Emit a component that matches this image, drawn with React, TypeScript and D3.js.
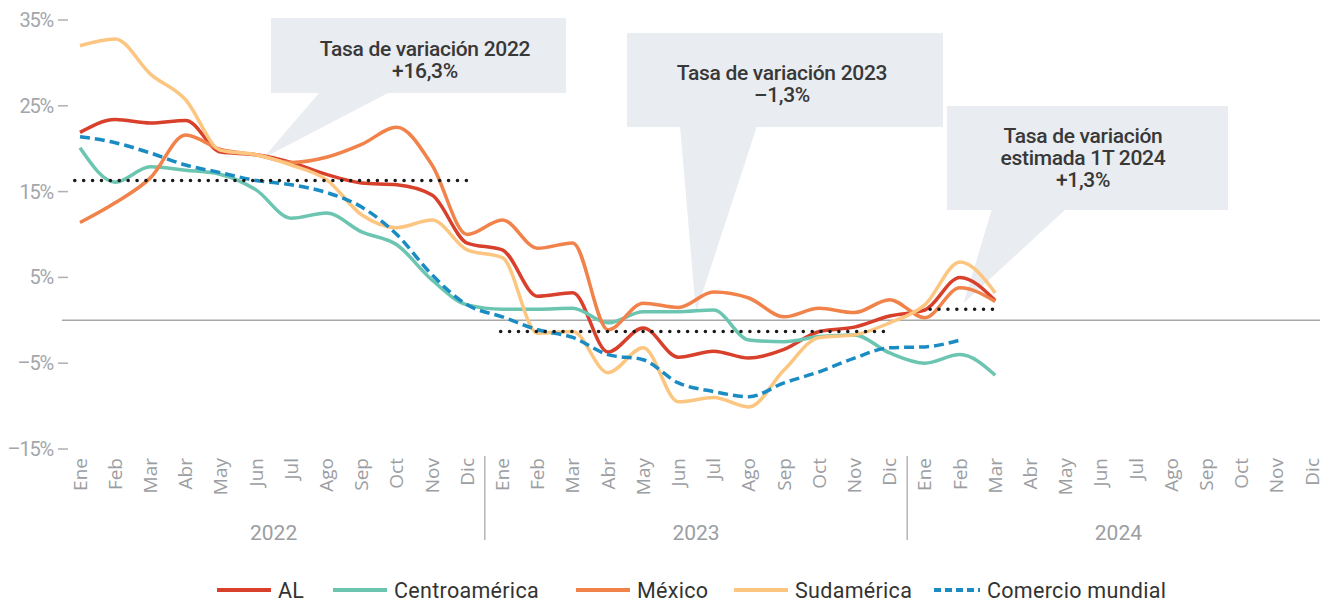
import React from "react";
import * as d3 from "d3";

const months = ["Ene", "Feb", "Mar", "Abr", "May", "Jun", "Jul", "Ago", "Sep", "Oct", "Nov", "Dic"];
const years = ["2022", "2023", "2024"];
const yTicks = [35, 25, 15, 5, -5, -15];

const al = [21.9, 23.4, 23.0, 23.3, 19.6, 19.3, 18.4, 17.0, 16.0, 15.8, 14.6, 9.0, 8.2, 2.8, 3.2, -3.7, -0.9, -4.3, -3.6, -4.4, -3.4, -1.3, -0.8, 0.5, 1.2, 5.0, 2.3];
const centro = [20.1, 16.1, 17.9, 17.5, 17.0, 15.2, 11.9, 12.5, 10.3, 8.8, 4.7, 1.8, 1.3, 1.3, 1.4, -0.3, 1.0, 1.0, 1.2, -2.3, -2.5, -1.9, -1.7, -3.8, -5.0, -4.0, -6.4];
const mexico = [11.4, 13.7, 16.6, 21.6, 19.9, 19.3, 18.4, 19.0, 20.5, 22.5, 18.1, 10.0, 11.7, 8.4, 9.0, -1.1, 2.0, 1.5, 3.3, 2.6, 0.4, 1.4, 0.9, 2.4, 0.3, 3.8, 2.2];
const sudam = [32.0, 32.8, 28.7, 25.7, 19.8, 19.3, 18.1, 16.4, 12.3, 10.8, 11.7, 8.2, 7.3, -1.5, -1.3, -6.1, -3.2, -9.5, -9.0, -10.1, -5.8, -2.0, -1.7, -0.3, 1.8, 6.8, 3.2];
const mundial = [21.4, 20.7, 19.5, 18.1, 17.2, 16.3, 15.8, 14.9, 13.2, 10.0, 5.3, 1.8, 0.4, -1.1, -2.0, -4.0, -4.6, -7.3, -8.3, -8.9, -7.3, -6.0, -4.4, -3.2, -3.1, -2.3];
const yearRates = [16.3, -1.3, 1.3];

const series = [
  { name: "AL", values: al, color: "#d8402b", dash: "" },
  { name: "Centroamérica", values: centro, color: "#6cc5b1", dash: "" },
  { name: "México", values: mexico, color: "#f0824a", dash: "" },
  { name: "Sudamérica", values: sudam, color: "#fcc680", dash: "" },
  { name: "Comercio mundial", values: mundial, color: "#1a8cc3", dash: "10 5" },
];

const legendX = [217, 333, 576, 734, 934];

const W = 1328;
const H = 603;
const font = "Roboto, sans-serif";
const calloutFill = "#e9ecf0";

export default function App() {
  const idx = d3.range(36);
  // linear month scale so annotations can sit between months
  const x = d3.scaleLinear().domain([0, 35]).range([80, 1312]);
  const y = d3.scaleLinear().domain([-15, 35]).range([449, 20]);

  const line = d3
    .line<number>()
    .x((d, i) => x(i))
    .y((d) => y(d))
    .curve(d3.curveMonotoneX);

  // dotted yearly rates: [start idx, end idx]
  const dotSpans = [
    [-0.15, 11.05],
    [11.95, 23.0],
    [24.15, 25.95],
  ];

  const callouts = [
    { box: [271, 18, 566, 93], base: [320, 390], tip: [x(5.2), y(18.9)], lines: ["Tasa de variación 2022", "+16,3%"], tx: 425, ty: 56 },
    { box: [627, 33, 943, 127], base: [680, 757], tip: [x(17.5), y(0.9)], lines: ["Tasa de variación 2023", "–1,3%"], tx: 782, ty: 80 },
    { box: [947, 106, 1228, 210], base: [992, 1066], tip: [x(25.1), y(2.0)], lines: ["Tasa de variación", "estimada 1T 2024", "+1,3%"], tx: 1083, ty: 143 },
  ];

  return (
    <svg width={W} height={H} style={{ position: "absolute", left: 0, top: 0, background: "#fff" }}>
      {/* callouts */}
      {callouts.map((c, i) => (
        <g key={i}>
          <rect x={c.box[0]} y={c.box[1]} width={c.box[2] - c.box[0]} height={c.box[3] - c.box[1]} fill={calloutFill} />
          <polygon points={`${c.base[0]},${c.box[3] - 1} ${c.base[1]},${c.box[3] - 1} ${c.tip[0]},${c.tip[1]}`} fill={calloutFill} />
          {c.lines.map((t, j) => (
            <text key={j} x={c.tx} y={c.ty + j * 22} textAnchor="middle" fontFamily={font} fontWeight={500} fontSize={21} fill="#383838" letterSpacing={-0.3}>
              {t}
            </text>
          ))}
        </g>
      ))}

      {/* y axis */}
      {yTicks.map((t) => (
        <g key={t} transform={`translate(0,${y(t)})`}>
          <text x={53} dy="0.35em" textAnchor="end" fontFamily={font} fontSize={20} fill="#a3a6aa" letterSpacing={-1.2}>
            {t < 0 ? `–${Math.abs(t)}%` : `${t}%`}
          </text>
          <line x1={58} x2={68} stroke="#b0b0b0" strokeWidth={1.5} />
        </g>
      ))}

      {/* zero line */}
      <line x1={62} x2={1320} y1={y(0)} y2={y(0)} stroke="#a8a8a8" strokeWidth={1.5} />

      {/* x axis labels */}
      {idx.map((i) => (
        <text
          key={i}
          transform={`translate(${x(i) + 6.5},458) rotate(-90)`}
          textAnchor="end"
          fontFamily="'Open Sans', sans-serif"
          fontSize={19}
          fill="#9b9ea2"
        >
          {months[i % 12]}
        </text>
      ))}
      {[11.5, 23.5].map((v) => (
        <line key={v} x1={x(v)} x2={x(v)} y1={456} y2={540} stroke="#b5b5b5" strokeWidth={1.5} />
      ))}
      {years.map((yr, i) => (
        <text key={yr} x={(x(i * 12) + x(i * 12 + 11)) / 2} y={540} textAnchor="middle" fontFamily={font} fontSize={21} fill="#9b9ea2">
          {yr}
        </text>
      ))}

      {/* series */}
      {series.map((s) => (
        <path key={s.name} d={line(s.values) || ""} fill="none" stroke={s.color} strokeWidth={3.5} strokeDasharray={s.dash} strokeLinejoin="round" />
      ))}

      {/* dotted yearly rates */}
      {dotSpans.map((sp, i) => (
        <line key={i} x1={x(sp[0])} x2={x(sp[1])} y1={y(yearRates[i])} y2={y(yearRates[i])} stroke="#1a1a1a" strokeWidth={3.5} strokeDasharray="0.1 8.8" strokeLinecap="round" />
      ))}

      {/* legend */}
      {series.map((s, i) => (
        <g key={s.name} transform={`translate(${legendX[i]},590)`}>
          <line x1={0} x2={s.dash ? 46 : 54} stroke={s.color} strokeWidth={4} strokeDasharray={s.dash ? "7 4" : ""} />
          <text x={s.dash ? 53 : 61} dy="0.36em" fontFamily={font} fontSize={21.5} fill="#333" letterSpacing={0.3}>
            {s.name}
          </text>
        </g>
      ))}
    </svg>
  );
}
